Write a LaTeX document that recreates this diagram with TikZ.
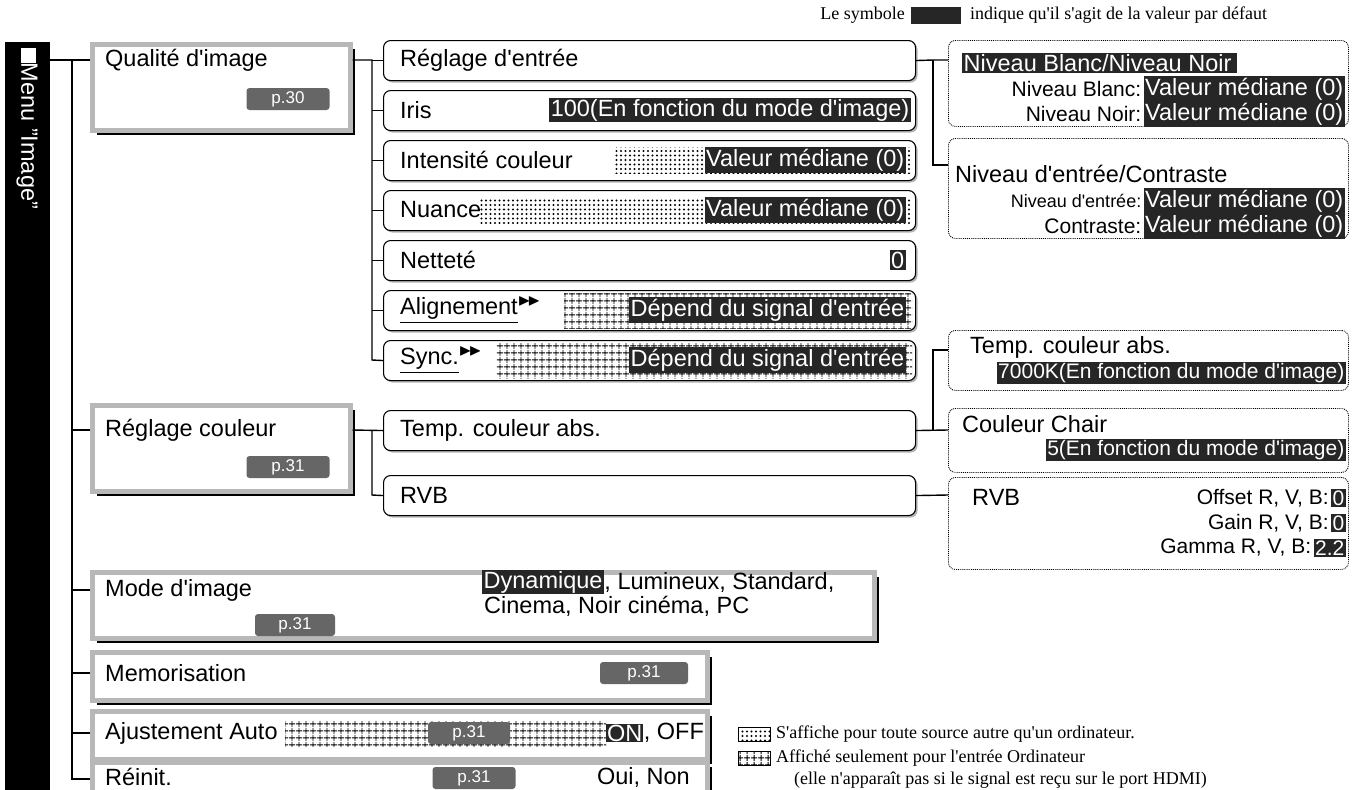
\documentclass[tikz,border=0pt]{standalone}
\usepackage{fontspec}
\usepackage{amssymb}
\setmainfont{Liberation Sans}
\newfontfamily\serifA{Liberation Serif}
\usetikzlibrary{shadows,patterns.meta,calc}
\newcommand\ap{\textquotesingle}
\newcommand\fA{\fontsize{23.5}{27}\selectfont}
\newcommand\fB{\fontsize{21}{24}\selectfont}
\newcommand\fS{\fontsize{18}{21}\selectfont}
\newcommand\fT{\fontsize{17}{20}\selectfont}
\newcommand\fL{\serifA\fontsize{18}{20}\selectfont}
\begin{document}
\begin{tikzpicture}[x=1pt,y=-1pt,
 lone/.style={draw=black!28,line width=4.5pt,fill=white,anchor=north west,inner sep=0pt,
   drop shadow={opacity=1,fill=black,shadow xshift=5pt,shadow yshift=-5pt}},
 ltwo/.style={draw=black,line width=1.1pt,rounded corners=7pt,fill=white,anchor=north west,inner sep=0pt,
   drop shadow={opacity=0.5,fill=black!60,shadow xshift=2pt,shadow yshift=-2pt}},
 lthree/.style={draw=black,densely dotted,line width=0.9pt,rounded corners=7pt,fill=white,anchor=north west,inner sep=0pt},
 txt/.style={anchor=west,inner sep=0pt,font=\fA},
 rtxt/.style={anchor=east,inner sep=0pt,font=\fA},
 hl/.style={fill=black!85,text=white,inner sep=1.5pt,font=\fA},
 tag/.style={fill=black!60,text=white,rounded corners=3pt,inner sep=0pt,minimum height=22pt,font=\fT},
 dots/.style={pattern={Dots[distance=4.5pt,radius=1.1pt]}},
 grid/.style={pattern={Hatch[angle=0,distance=6.5pt,line width=1pt]}},
 conn/.style={line width=1.4pt}]
\useasboundingbox (0,0) rectangle (1353,790);
% legend top
\node[anchor=east,inner sep=0pt,font=\fL] (lg1) at (905,15) {Le symbole};
\node[fill=black!85,minimum width=50pt,minimum height=17pt,inner sep=0pt] (lgb) at (936,15) {};
\node[anchor=west,inner sep=0pt,font=\fL] (lg2) at (970,15) {indique qu\ap il s\ap agit de la valeur par d\'efaut};
% left bar
\node[fill=black,anchor=north west,minimum width=45pt,minimum height=748pt,inner sep=0pt] (bar) at (5,42) {};
\node[rotate=-90,anchor=west,text=white,font=\fA,inner sep=0pt] (bart) at (27,48) {\rule{0.62em}{0.62em}Menu "Image"};
% level 1
\node[lone,minimum width=258pt,minimum height=86pt] (q) at (90,42) {};
\node[lone,minimum width=258pt,minimum height=86pt] (rc) at (90,403) {};
\node[lone,minimum width=782pt,minimum height=66pt] (md) at (90,570) {};
\node[lone,minimum width=615pt,minimum height=48pt] (me) at (90,650) {};
\node[lone,minimum width=615pt,minimum height=48pt] (aa) at (90,709) {};
\node[lone,minimum width=615pt,minimum height=48pt] (re) at (90,760) {};
\node[txt] at (105,60) {Qualit\'e d\ap image};
\node[tag,minimum width=83pt] at (288,99) {p.30};
\node[txt] at (105,430) {R\'eglage couleur};
\node[tag,minimum width=83pt] at (288,467) {p.31};
\node[txt] at (105,590) {Mode d\ap image};
\node[tag,minimum width=80pt] at (295,625) {p.31};
\node[hl,anchor=west] (dyn) at (482,582) {Dynamique};
\node[txt] at (dyn.east) {, Lumineux, Standard,};
\node[txt] at (484,606) {Cinema, Noir cin\'ema, PC};
\node[txt] at (105,673) {Memorisation};
\node[tag,minimum width=88pt] at (644,673) {p.31};
\fill[grid] (285,721) rectangle (606,746);
\node[txt] at (105,733) {Ajustement Auto};
\node[tag,minimum width=82pt] at (469,733) {p.31};
\node[hl,anchor=west,inner sep=1pt] (on) at (606,733) {ON};
\node[txt] at (on.east) {, OFF};
\node[txt] at (105,777) {R\'einit.};
\node[tag,minimum width=83pt] at (474,778) {p.31};
\node[rtxt] at (690,777) {Oui, Non};
% trunk
\draw[conn] (bar.east|-0,60) -- (q.west|-0,60);
\draw[conn] (72,60) -- (72,779) -- (re.west|-0,779);
\foreach \n/\y in {rc/430,md/590,me/673,aa/733}{\draw[conn] (72,\y) -- (\n.west|-0,\y);}
% level 2
\foreach \n/\y in {e/40,i/90,c/140,u/190,n/240,a/290,s/340,t/410,r/475}{
  \node[ltwo,minimum width=532pt,minimum height=40pt] (\n) at (383,\y) {};}
\draw[conn] (q.east|-0,60) -- (372,60) -- (372,360) -- (s.west);
\foreach \n in {e,i,c,u,n,a}{\draw[conn] (372,0|-\n.west) -- (\n.west);}
\draw[conn] (rc.east|-0,430) -- (t.west);
\draw[conn] (372,430) -- (372,495) -- (r.west);
\node[txt] at (400,60) {R\'eglage d\ap entr\'ee};
\node[txt] at (400,110) {Iris};
\node[hl,anchor=east] at (911,110) {100(En fonction du mode d\ap image)};
\fill[dots] (614,147) rectangle (912,173);
\node[txt] at (400,160) {Intensit\'e couleur};
\node[hl,anchor=east] at (906,160) {Valeur m\'ediane (0)};
\fill[dots] (480,197) rectangle (912,223);
\node[txt] at (400,210) {Nuance};
\node[hl,anchor=east] at (906,210) {Valeur m\'ediane (0)};
\node[txt] at (400,260) {Nettet\'e};
\node[hl,anchor=east] at (906,260) {0};
\fill[grid] (564,293) rectangle (912,328);
\node[txt] at (400,310) {\underline{Alignement}$^{\blacktriangleright\!\blacktriangleright}$};
\node[hl,anchor=east] at (906,310) {D\'epend du signal d\ap entr\'ee};
\fill[grid] (496,343) rectangle (912,378);
\node[txt] at (400,360) {\underline{Sync.}$^{\blacktriangleright\!\blacktriangleright}$};
\node[hl,anchor=east] at (906,360) {D\'epend du signal d\ap entr\'ee};
\node[txt] at (400,430) {Temp. couleur abs.};
\node[txt] at (400,495) {RVB};
% level 3
\node[lthree,minimum width=400pt,minimum height=86pt] (nb) at (948,40) {};
\node[lthree,minimum width=400pt,minimum height=100pt] (ne) at (948,138) {};
\node[lthree,minimum width=400pt,minimum height=60pt] (tc) at (948,330) {};
\node[lthree,minimum width=400pt,minimum height=64pt] (cc) at (948,408) {};
\node[lthree,minimum width=400pt,minimum height=92pt] (rv) at (948,477) {};
\draw[conn] (e.east) -- (933,60) -- (nb.west|-0,60);
\draw[conn] (933,60) -- (933,165) -- (ne.west|-0,165);
\draw[conn] (t.east) -- (cc.west|-0,430);
\draw[conn] (933,430) -- (933,350) -- (tc.west|-0,350);
\draw[conn] (r.east) -- (rv.west|-0,495);
\node[hl,anchor=west] at (962,63) {Niveau Blanc/Niveau Noir\,};
\node[hl,anchor=east] (v1) at (1345,89) {Valeur m\'ediane (0)};
\node[rtxt,font=\fB] at ([xshift=-2pt]v1.west) {Niveau Blanc:};
\node[hl,anchor=east] (v2) at (1345,114) {Valeur m\'ediane (0)};
\node[rtxt,font=\fB] at ([xshift=-2pt]v2.west) {Niveau Noir:};
\node[txt] at (955,174) {Niveau d\ap entr\'ee/Contraste};
\node[hl,anchor=east] (v3) at (1345,201) {Valeur m\'ediane (0)};
\node[rtxt,font=\fS] at ([xshift=-2pt]v3.west) {Niveau d\ap entr\'ee:};
\node[hl,anchor=east] (v4) at (1345,226) {Valeur m\'ediane (0)};
\node[rtxt,font=\fB] at ([xshift=-2pt]v4.west) {Contraste:};
\node[txt] at (970,347) {Temp. couleur abs.};
\node[hl,anchor=east,font=\fB] at (1346,373) {7000K(En fonction du mode d\ap image)};
\node[txt] at (962,424) {Couleur Chair};
\node[hl,anchor=east,font=\fB] at (1346,450) {5(En fonction du mode d\ap image)};
\node[txt] at (972,497) {RVB};
\node[hl,anchor=east,font=\fB] (g1) at (1346,498) {0};
\node[rtxt,font=\fB] at ([xshift=-2pt]g1.west) {Offset R, V, B:};
\node[hl,anchor=east,font=\fB] (g2) at (1346,523) {0};
\node[rtxt,font=\fB] at ([xshift=-2pt]g2.west) {Gain R, V, B:};
\node[hl,anchor=east,font=\fB] (g3) at (1346,548) {2.2};
\node[rtxt,font=\fB] at ([xshift=-2pt]g3.west) {Gamma R, V, B:};
% legend bottom
\filldraw[dots,draw=black,line width=0.6pt] (738,727) rectangle (770,741);
\node[anchor=west,inner sep=0pt,font=\fL] at (776,734) {S\ap affiche pour toute source autre qu\ap un ordinateur.};
\filldraw[grid,draw=black,line width=0.6pt] (738,751) rectangle (770,765);
\node[anchor=west,inner sep=0pt,font=\fL] at (776,758) {Affich\'e seulement pour l\ap entr\'ee Ordinateur};
\node[anchor=west,inner sep=0pt,font=\fL] at (794,780) {(elle n\ap appara\^it pas si le signal est re\c cu sur le port HDMI)};
\end{tikzpicture}
\end{document}
